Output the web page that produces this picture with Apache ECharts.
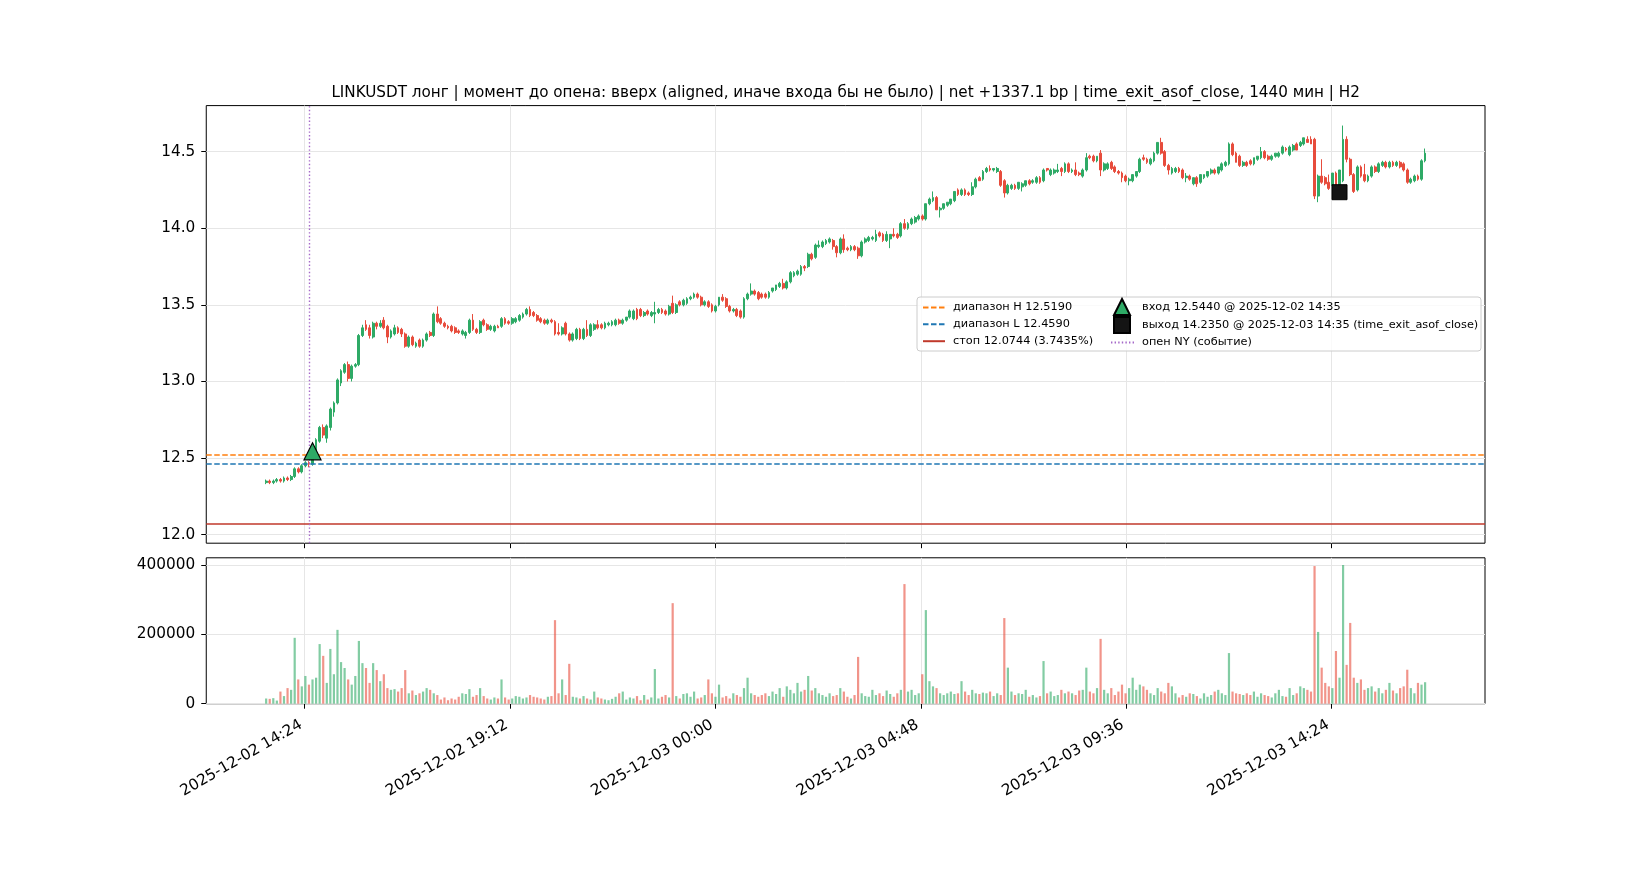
<!DOCTYPE html>
<html>
<head>
<meta charset="utf-8">
<script src="https://cdn.jsdelivr.net/npm/echarts@6/dist/echarts.min.js"></script>
<style>
html, body { margin: 0; padding: 0; background: #fff; }
#chart { width: 1650px; height: 880px; }
</style>
</head>
<body>
<div id="chart"></div>
<script>
// 5-minute candles, first one opens at 2025-12-02 13:30 (UTC)
var startTime = '2025-12-02 13:30';
var barMinutes = 5;

var opens = [
  12.34,12.35,12.34,12.35,12.36,12.35,12.37,12.36,12.38,12.43,
  12.41,12.45,12.47,12.46,12.54,12.61,12.70,12.63,12.70,12.80,
  12.86,12.99,13.06,13.11,13.02,13.10,13.11,13.30,13.37,13.35,
  13.29,13.38,13.36,13.40,13.36,13.29,13.31,13.35,13.34,13.31,
  13.23,13.29,13.23,13.27,13.23,13.27,13.32,13.30,13.44,13.41,
  13.38,13.36,13.36,13.35,13.33,13.31,13.30,13.32,13.40,13.34,
  13.32,13.40,13.37,13.34,13.33,13.36,13.36,13.41,13.39,13.38,
  13.39,13.40,13.42,13.44,13.47,13.45,13.43,13.41,13.40,13.38,
  13.40,13.39,13.32,13.31,13.38,13.31,13.27,13.28,13.34,13.28,
  13.34,13.30,13.34,13.37,13.37,13.35,13.37,13.37,13.37,13.40,
  13.38,13.40,13.42,13.41,13.47,13.47,13.43,13.46,13.43,13.44,
  13.45,13.47,13.46,13.44,13.51,13.45,13.52,13.50,13.51,13.54,
  13.55,13.57,13.55,13.50,13.52,13.50,13.46,13.50,13.55,13.54,
  13.49,13.46,13.47,13.46,13.42,13.54,13.57,13.59,13.58,13.57,
  13.57,13.55,13.59,13.60,13.62,13.64,13.61,13.65,13.69,13.70,
  13.70,13.75,13.75,13.83,13.81,13.88,13.88,13.90,13.91,13.92,
  13.88,13.84,13.93,13.87,13.86,13.88,13.87,13.82,13.91,13.92,
  13.93,13.92,13.97,13.96,13.92,13.93,13.96,13.96,13.95,14.03,
  14.00,14.03,14.04,14.06,14.08,14.06,14.16,14.18,14.20,14.12,
  14.13,14.15,14.16,14.18,14.25,14.22,14.25,14.23,14.22,14.27,
  14.33,14.32,14.37,14.39,14.38,14.37,14.37,14.31,14.23,14.26,
  14.28,14.26,14.27,14.28,14.31,14.30,14.30,14.33,14.31,14.39,
  14.35,14.36,14.37,14.39,14.37,14.42,14.37,14.38,14.36,14.34,
  14.38,14.47,14.47,14.44,14.49,14.38,14.39,14.43,14.40,14.37,
  14.36,14.34,14.31,14.31,14.34,14.37,14.46,14.45,14.42,14.44,
  14.49,14.56,14.50,14.41,14.36,14.37,14.39,14.38,14.33,14.34,
  14.29,14.33,14.30,14.33,14.34,14.36,14.38,14.36,14.38,14.41,
  14.42,14.55,14.49,14.47,14.41,14.43,14.44,14.42,14.45,14.46,
  14.50,14.47,14.45,14.47,14.47,14.49,14.52,14.48,14.51,14.55,
  14.54,14.55,14.58,14.58,14.58,14.21,14.34,14.33,14.30,14.28,
  14.36,14.28,14.31,14.58,14.45,14.35,14.25,14.40,14.35,14.31,
  14.34,14.40,14.37,14.41,14.43,14.40,14.43,14.41,14.43,14.42,
  14.38,14.30,14.31,14.34,14.32,14.44
];
var highs = [
  12.36,12.36,12.36,12.37,12.37,12.38,12.38,12.39,12.44,12.44,
  12.46,12.48,12.48,12.56,12.63,12.71,12.72,12.72,12.83,12.87,
  13.02,13.08,13.12,13.13,13.11,13.12,13.31,13.37,13.40,13.37,
  13.39,13.39,13.40,13.42,13.37,13.34,13.37,13.36,13.35,13.32,
  13.30,13.30,13.26,13.28,13.28,13.32,13.33,13.45,13.49,13.42,
  13.39,13.37,13.37,13.36,13.34,13.34,13.33,13.41,13.44,13.35,
  13.40,13.41,13.38,13.37,13.37,13.37,13.42,13.42,13.40,13.42,
  13.42,13.44,13.45,13.48,13.49,13.46,13.44,13.42,13.41,13.41,
  13.41,13.40,13.38,13.36,13.39,13.32,13.32,13.35,13.35,13.35,
  13.40,13.38,13.38,13.40,13.38,13.39,13.39,13.40,13.41,13.41,
  13.41,13.42,13.47,13.47,13.48,13.48,13.46,13.47,13.46,13.52,
  13.48,13.48,13.47,13.50,13.56,13.51,13.53,13.54,13.55,13.56,
  13.58,13.58,13.56,13.53,13.53,13.51,13.50,13.55,13.57,13.55,
  13.50,13.48,13.48,13.47,13.55,13.58,13.64,13.60,13.59,13.58,
  13.58,13.59,13.61,13.63,13.65,13.67,13.66,13.72,13.72,13.73,
  13.76,13.76,13.84,13.84,13.90,13.92,13.92,13.93,13.94,13.93,
  13.89,13.94,13.96,13.88,13.89,13.89,13.88,13.92,13.94,13.95,
  13.95,13.99,13.98,13.97,13.98,13.96,14.00,13.97,14.04,14.06,
  14.04,14.07,14.08,14.09,14.09,14.16,14.20,14.24,14.21,14.14,
  14.16,14.17,14.19,14.24,14.26,14.26,14.26,14.24,14.30,14.33,
  14.34,14.38,14.40,14.41,14.39,14.40,14.38,14.32,14.29,14.29,
  14.29,14.30,14.30,14.31,14.32,14.32,14.34,14.34,14.39,14.39,
  14.39,14.39,14.42,14.40,14.43,14.43,14.39,14.43,14.37,14.39,
  14.49,14.48,14.48,14.47,14.51,14.43,14.43,14.44,14.41,14.38,
  14.37,14.35,14.33,14.35,14.37,14.46,14.48,14.46,14.46,14.50,
  14.56,14.59,14.51,14.42,14.40,14.40,14.40,14.39,14.36,14.35,
  14.33,14.34,14.35,14.35,14.37,14.39,14.39,14.40,14.43,14.44,
  14.56,14.56,14.50,14.48,14.44,14.44,14.45,14.46,14.47,14.53,
  14.51,14.48,14.48,14.49,14.50,14.54,14.53,14.54,14.55,14.56,
  14.57,14.59,14.60,14.60,14.59,14.35,14.45,14.34,14.35,14.36,
  14.37,14.38,14.67,14.60,14.46,14.36,14.41,14.41,14.42,14.35,
  14.41,14.41,14.43,14.44,14.44,14.44,14.44,14.44,14.44,14.43,
  14.39,14.33,14.35,14.35,14.45,14.52
];
var lows = [
  12.33,12.33,12.33,12.34,12.34,12.34,12.35,12.35,12.37,12.40,
  12.40,12.44,12.44,12.45,12.53,12.60,12.63,12.60,12.68,12.77,
  12.85,12.97,13.05,13.00,13.00,13.09,13.10,13.29,13.33,13.28,
  13.28,13.34,13.35,13.34,13.25,13.28,13.30,13.31,13.29,13.22,
  13.22,13.23,13.22,13.22,13.22,13.26,13.29,13.29,13.38,13.37,
  13.35,13.34,13.32,13.31,13.31,13.30,13.28,13.31,13.33,13.31,
  13.31,13.36,13.33,13.33,13.32,13.35,13.35,13.37,13.37,13.37,
  13.38,13.39,13.41,13.43,13.42,13.42,13.39,13.38,13.37,13.37,
  13.38,13.30,13.30,13.30,13.30,13.26,13.26,13.27,13.27,13.27,
  13.29,13.29,13.33,13.34,13.34,13.34,13.36,13.36,13.36,13.37,
  13.37,13.39,13.41,13.40,13.40,13.42,13.42,13.43,13.42,13.38,
  13.44,13.44,13.43,13.43,13.44,13.44,13.49,13.49,13.50,13.53,
  13.54,13.54,13.49,13.49,13.48,13.45,13.45,13.49,13.52,13.48,
  13.45,13.45,13.42,13.41,13.41,13.53,13.56,13.56,13.53,13.54,
  13.54,13.54,13.58,13.59,13.61,13.60,13.60,13.64,13.68,13.69,
  13.69,13.72,13.74,13.79,13.80,13.87,13.87,13.89,13.90,13.86,
  13.81,13.83,13.84,13.85,13.85,13.85,13.80,13.81,13.90,13.91,
  13.92,13.91,13.94,13.91,13.91,13.87,13.94,13.93,13.94,13.99,
  13.99,14.02,14.03,14.05,14.05,14.05,14.15,14.17,14.12,14.07,
  14.12,14.14,14.15,14.17,14.21,14.21,14.21,14.21,14.21,14.26,
  14.31,14.31,14.36,14.37,14.37,14.36,14.27,14.20,14.22,14.25,
  14.25,14.25,14.24,14.27,14.28,14.29,14.29,14.29,14.30,14.37,
  14.34,14.35,14.36,14.34,14.36,14.36,14.36,14.34,14.34,14.33,
  14.37,14.45,14.43,14.43,14.34,14.37,14.38,14.38,14.36,14.35,
  14.30,14.30,14.28,14.30,14.33,14.36,14.44,14.42,14.41,14.43,
  14.48,14.48,14.40,14.35,14.35,14.36,14.36,14.32,14.30,14.31,
  14.28,14.27,14.29,14.32,14.33,14.35,14.35,14.35,14.37,14.40,
  14.41,14.47,14.43,14.40,14.40,14.40,14.41,14.41,14.44,14.45,
  14.45,14.44,14.44,14.46,14.46,14.48,14.50,14.47,14.50,14.51,
  14.53,14.54,14.56,14.55,14.19,14.17,14.29,14.28,14.25,14.27,
  14.27,14.27,14.30,14.43,14.34,14.23,14.24,14.33,14.30,14.30,
  14.33,14.36,14.36,14.40,14.39,14.39,14.40,14.40,14.39,14.37,
  14.29,14.29,14.30,14.31,14.31,14.43
];
var closes = [
  12.35,12.34,12.35,12.36,12.35,12.37,12.36,12.38,12.43,12.41,
  12.45,12.47,12.46,12.54,12.62,12.70,12.65,12.71,12.82,12.86,
  13.01,13.07,13.11,13.02,13.10,13.11,13.30,13.35,13.34,13.30,
  13.38,13.36,13.38,13.35,13.29,13.33,13.35,13.32,13.31,13.23,
  13.29,13.24,13.25,13.23,13.27,13.31,13.30,13.44,13.39,13.38,
  13.36,13.35,13.33,13.32,13.32,13.33,13.32,13.40,13.34,13.32,
  13.39,13.37,13.34,13.36,13.36,13.35,13.41,13.38,13.38,13.41,
  13.41,13.43,13.44,13.47,13.43,13.43,13.40,13.39,13.38,13.40,
  13.39,13.31,13.31,13.35,13.31,13.27,13.31,13.34,13.28,13.34,
  13.30,13.37,13.37,13.35,13.35,13.38,13.38,13.39,13.40,13.38,
  13.40,13.42,13.46,13.46,13.41,13.43,13.45,13.44,13.45,13.45,
  13.47,13.45,13.44,13.49,13.45,13.50,13.50,13.53,13.54,13.55,
  13.57,13.55,13.50,13.52,13.49,13.46,13.49,13.55,13.53,13.49,
  13.46,13.47,13.43,13.42,13.54,13.57,13.59,13.57,13.54,13.55,
  13.55,13.58,13.61,13.63,13.64,13.61,13.65,13.71,13.71,13.72,
  13.75,13.74,13.83,13.80,13.89,13.89,13.91,13.92,13.93,13.88,
  13.84,13.93,13.86,13.86,13.88,13.86,13.82,13.91,13.93,13.94,
  13.94,13.96,13.95,13.92,13.96,13.96,13.95,13.94,14.03,14.00,
  14.03,14.06,14.07,14.08,14.06,14.16,14.19,14.20,14.12,14.13,
  14.16,14.17,14.19,14.24,14.22,14.25,14.22,14.22,14.27,14.32,
  14.31,14.37,14.39,14.38,14.39,14.39,14.28,14.23,14.28,14.28,
  14.26,14.30,14.29,14.31,14.29,14.31,14.33,14.30,14.38,14.38,
  14.38,14.38,14.38,14.37,14.42,14.37,14.38,14.35,14.35,14.38,
  14.46,14.46,14.44,14.47,14.38,14.42,14.42,14.39,14.37,14.36,
  14.33,14.31,14.32,14.35,14.37,14.45,14.45,14.43,14.45,14.49,
  14.56,14.49,14.41,14.38,14.39,14.39,14.37,14.33,14.34,14.32,
  14.33,14.29,14.35,14.35,14.37,14.38,14.36,14.40,14.42,14.43,
  14.55,14.48,14.43,14.41,14.43,14.41,14.42,14.46,14.47,14.50,
  14.46,14.45,14.47,14.49,14.49,14.53,14.51,14.53,14.54,14.51,
  14.56,14.59,14.56,14.55,14.21,14.34,14.30,14.29,14.26,14.36,
  14.28,14.38,14.58,14.45,14.35,14.24,14.40,14.34,14.31,14.34,
  14.40,14.37,14.42,14.43,14.40,14.43,14.41,14.43,14.40,14.38,
  14.30,14.32,14.34,14.32,14.44,14.49
];
var volumes = [
  15000,14000,16000,9000,35000,22000,45000,40000,190000,70000,
  50000,80000,55000,70000,75000,172000,138000,60000,158000,85000,
  213000,120000,103000,70000,55000,80000,181000,117000,103000,60000,
  117000,97000,65000,85000,45000,40000,42000,35000,45000,97000,
  30000,38000,25000,30000,35000,45000,40000,30000,25000,12000,
  18000,10000,15000,12000,20000,30000,28000,42000,20000,25000,
  45000,22000,15000,12000,18000,15000,70000,18000,12000,15000,
  22000,20000,15000,18000,25000,20000,18000,15000,12000,20000,
  22000,241000,30000,70000,25000,115000,20000,18000,15000,22000,
  15000,12000,35000,18000,15000,12000,10000,14000,20000,30000,
  35000,12000,18000,15000,22000,10000,25000,12000,18000,100000,
  15000,20000,25000,18000,290000,22000,15000,28000,30000,20000,
  35000,15000,18000,25000,70000,30000,20000,55000,18000,22000,
  15000,30000,25000,20000,45000,75000,30000,25000,20000,25000,
  30000,22000,35000,28000,45000,20000,50000,40000,30000,60000,
  35000,40000,80000,38000,45000,30000,25000,20000,30000,22000,
  25000,45000,35000,20000,15000,25000,135000,30000,22000,20000,
  40000,25000,30000,22000,38000,28000,20000,30000,40000,345000,
  35000,40000,25000,30000,85000,270000,65000,50000,45000,30000,
  25000,30000,35000,28000,30000,65000,35000,25000,40000,30000,
  28000,32000,30000,35000,22000,30000,25000,247000,104000,35000,
  25000,30000,28000,40000,20000,25000,18000,22000,123000,30000,
  35000,22000,25000,40000,30000,35000,30000,25000,38000,40000,
  104000,35000,30000,45000,187000,40000,30000,45000,25000,35000,
  55000,30000,45000,75000,40000,55000,50000,40000,30000,25000,
  45000,35000,30000,60000,50000,30000,18000,25000,20000,30000,
  28000,22000,15000,30000,20000,25000,35000,40000,30000,25000,
  146000,35000,30000,28000,25000,30000,25000,35000,20000,30000,
  25000,22000,18000,30000,40000,22000,20000,45000,25000,30000,
  50000,45000,40000,35000,397000,207000,104000,60000,50000,45000,
  152000,75000,400000,112000,233000,75000,60000,70000,40000,45000,
  50000,35000,45000,30000,40000,60000,38000,30000,45000,50000,
  98000,45000,30000,60000,55000,62000
];

var tickLabels = ['2025-12-02 14:24', '2025-12-02 19:12', '2025-12-03 00:00',
                  '2025-12-03 04:48', '2025-12-03 09:36', '2025-12-03 14:24'];
var priceTicks = [12.0, 12.5, 13.0, 13.5, 14.0, 14.5];
var volumeTicks = [0, 200000, 400000];

var rangeHigh = 12.5190, rangeLow = 12.4590, stopPrice = 12.0744;
var entryTime = '2025-12-02 14:35', entryPrice = 12.5440;
var exitTime = '2025-12-03 14:35', exitPrice = 14.2350;
var nyOpenTime = '2025-12-02 14:30';

var nameH = 'диапазон H 12.5190';
var nameL = 'диапазон L 12.4590';
var nameStop = 'стоп 12.0744 (3.7435%)';
var nameEntry = 'вход 12.5440 @ 2025-12-02 14:35';
var nameExit = 'выход 14.2350 @ 2025-12-03 14:35 (time_exit_asof_close)';
var nameOpen = 'опен NY (событие)';

function toMs(s) {
    var p = s.split(/[- :]/);
    return Date.UTC(+p[0], +p[1] - 1, +p[2], +p[3], +p[4]);
}

var t0 = toMs(startTime);
var tickMs = tickLabels.map(toMs);
var xMin = toMs('2025-12-02 12:06');
var xMax = toMs('2025-12-03 17:59');

var GREEN = '#2eaa66', RED = '#e74c3c';
var FONT = 'DejaVu Sans';
var TICK_FS = 15.3, TITLE_FS = 15.2, LEG_FS = 11.3;

var candleData = [], volData = [];
for (var i = 0; i < closes.length; i++) {
    var t = t0 + i * barMinutes * 60000;
    candleData.push([t, opens[i], closes[i], lows[i], highs[i]]);
    volData.push({
        value: [t, volumes[i]],
        itemStyle: { color: closes[i] >= opens[i] ? 'rgba(46,170,102,0.6)' : 'rgba(231,76,60,0.6)' }
    });
}

var gridLine = { color: '#e6e6e6', width: 1, type: 'solid' };
function gridMarks(yTicks) {
    return yTicks.map(function (v) { return { yAxis: v }; })
        .concat(tickMs.map(function (t) { return { xAxis: t }; }));
}
function hLine(v) { return { yAxis: v }; }
// line entries: hide the dot ECharts puts on line legend icons
function lineItem(name) { return { name: name, itemStyle: { opacity: 0 } }; }

var dom = document.getElementById('chart');
var myChart = echarts.init(dom, null, { renderer: 'canvas' });

var xLabelFmt = function (v) {
    var k = tickMs.indexOf(v);
    return k >= 0 ? tickLabels[k] : '';
};
var legText = { fontFamily: FONT, fontSize: LEG_FS, color: '#000' };

var option = {
    animation: false,
    backgroundColor: '#fff',
    title: {
        text: 'LINKUSDT лонг | момент до опена: вверх (aligned, иначе входа бы не было) | net +1337.1 bp | time_exit_asof_close, 1440 мин | H2',
        left: 845.6,
        textAlign: 'center',
        top: 85,
        padding: 0,
        textStyle: { fontFamily: FONT, fontSize: TITLE_FS, fontWeight: 'normal', color: '#000', lineHeight: 17 }
    },
    legend: [
        {
            data: [lineItem(nameH), lineItem(nameL), lineItem(nameStop)],
            orient: 'vertical', left: 922, top: 301, padding: 0,
            itemWidth: 22, itemHeight: 16, itemGap: 4.1,
            selectedMode: false,
            textStyle: Object.assign({ padding: [0, 0, 0, 3] }, legText)
        },
        {
            data: [nameEntry, nameExit],
            orient: 'vertical', left: 1113, top: 298, padding: 0,
            itemWidth: 16, itemHeight: 16, itemGap: 0,
            selectedMode: false,
            textStyle: Object.assign({ padding: [0, 0, 0, 7] }, legText)
        },
        {
            data: [lineItem(nameOpen)],
            orient: 'vertical', left: 1110, top: 336, padding: 0,
            itemWidth: 23, itemHeight: 16, itemGap: 1.4,
            selectedMode: false,
            textStyle: Object.assign({ padding: [0, 0, 0, 3] }, legText)
        }
    ],
    graphic: [{
        type: 'rect', z: 3, silent: true,
        shape: { x: 917, y: 297, width: 564, height: 54, r: 3 },
        style: { fill: 'rgba(255,255,255,0.8)', stroke: '#cccccc', lineWidth: 1 }
    }],
    grid: [
        { left: 206.25, right: 165, top: 105.6, height: 437.6, show: true, borderColor: '#000', borderWidth: 1, backgroundColor: 'transparent' },
        { left: 206.25, right: 165, top: 557.8, height: 145.9, show: true, borderColor: '#000', borderWidth: 1, backgroundColor: 'transparent' }
    ],
    xAxis: [
        {
            type: 'value', gridIndex: 0, min: xMin, max: xMax,
            axisLine: { show: false }, splitLine: { show: false },
            axisTick: { show: true, customValues: tickMs, length: 5, lineStyle: { color: '#000', width: 1 } },
            axisLabel: { show: false }
        },
        {
            type: 'value', gridIndex: 1, min: xMin, max: xMax,
            axisLine: { show: false }, splitLine: { show: false },
            axisTick: { show: true, customValues: tickMs, length: 5, lineStyle: { color: '#000', width: 1 } },
            axisLabel: {
                show: true, customValues: tickMs, rotate: 30, margin: 18,
                padding: [0, 4, 0, 0],
                formatter: xLabelFmt,
                fontFamily: FONT, fontSize: TICK_FS, color: '#000'
            }
        }
    ],
    yAxis: [
        {
            type: 'value', gridIndex: 0, min: 11.9446, max: 14.8002,
            axisLine: { show: false }, splitLine: { show: false },
            axisTick: { show: true, customValues: priceTicks, length: 5, lineStyle: { color: '#000', width: 1 } },
            axisLabel: {
                customValues: priceTicks, margin: 11,
                formatter: function (v) { return v.toFixed(1); },
                fontFamily: FONT, fontSize: TICK_FS, color: '#000'
            }
        },
        {
            type: 'value', gridIndex: 1, min: 0, max: 420800,
            axisLine: { show: false }, splitLine: { show: false },
            axisTick: { show: true, customValues: volumeTicks, length: 5, lineStyle: { color: '#000', width: 1 } },
            axisLabel: {
                customValues: volumeTicks, margin: 11,
                formatter: function (v) { return String(v); },
                fontFamily: FONT, fontSize: TICK_FS, color: '#000'
            }
        }
    ],
    series: [
        {
            name: 'gridPrice', type: 'line', xAxisIndex: 0, yAxisIndex: 0, data: [], z: 0,
            markLine: { silent: true, z: 1, symbol: ['none', 'none'], label: { show: false },
                lineStyle: gridLine, data: gridMarks(priceTicks) }
        },
        {
            name: 'gridVolume', type: 'line', xAxisIndex: 1, yAxisIndex: 1, data: [], z: 0,
            markLine: { silent: true, z: 1, symbol: ['none', 'none'], label: { show: false },
                lineStyle: gridLine, data: gridMarks(volumeTicks) }
        },
        {
            name: 'LINKUSDT', type: 'candlestick', xAxisIndex: 0, yAxisIndex: 0,
            data: candleData, encode: { x: 0, y: [1, 2, 3, 4] },
            barWidth: 2.3, z: 2,
            itemStyle: { color: GREEN, color0: RED, borderColor: GREEN, borderColor0: RED, borderWidth: 1 }
        },
        {
            name: 'volume', type: 'bar', xAxisIndex: 1, yAxisIndex: 1,
            data: volData, barWidth: 2.2, z: 2
        },
        {
            name: nameH, type: 'line', xAxisIndex: 0, yAxisIndex: 0, data: [], symbol: 'none',
            lineStyle: { color: '#ff7f0e', width: 1.5, type: [5.5, 2.5] }, itemStyle: { color: '#ff7f0e' },
            markLine: { silent: true, symbol: ['none', 'none'], label: { show: false },
                lineStyle: { color: '#ff7f0e', width: 1.5, type: [5.5, 2.5] }, data: [hLine(rangeHigh)] }
        },
        {
            name: nameL, type: 'line', xAxisIndex: 0, yAxisIndex: 0, data: [], symbol: 'none',
            lineStyle: { color: '#1f77b4', width: 1.5, type: [5.5, 2.5] }, itemStyle: { color: '#1f77b4' },
            markLine: { silent: true, symbol: ['none', 'none'], label: { show: false },
                lineStyle: { color: '#1f77b4', width: 1.5, type: [5.5, 2.5] }, data: [hLine(rangeLow)] }
        },
        {
            name: nameStop, type: 'line', xAxisIndex: 0, yAxisIndex: 0, data: [], symbol: 'none',
            lineStyle: { color: '#c0392b', width: 1.5 }, itemStyle: { color: '#c0392b' },
            markLine: { silent: true, symbol: ['none', 'none'], label: { show: false },
                lineStyle: { color: '#c0392b', width: 1.5, type: 'solid' }, data: [hLine(stopPrice)] }
        },
        {
            name: nameOpen, type: 'line', xAxisIndex: 0, yAxisIndex: 0, data: [], symbol: 'none',
            lineStyle: { color: '#a569c9', width: 1.4, type: [1.4, 2.2] }, itemStyle: { color: '#a569c9' },
            markLine: { silent: true, symbol: ['none', 'none'], label: { show: false },
                lineStyle: { color: '#a569c9', width: 1.4, type: [1.4, 2.2] }, data: [{ xAxis: toMs(nyOpenTime) }] }
        },
        {
            name: nameEntry, type: 'scatter', xAxisIndex: 0, yAxisIndex: 0, z: 10,
            symbol: 'triangle', symbolSize: 17,
            itemStyle: { color: GREEN, borderColor: '#000', borderWidth: 1.2, opacity: 1 },
            data: [[toMs(entryTime), entryPrice]]
        },
        {
            name: nameExit, type: 'scatter', xAxisIndex: 0, yAxisIndex: 0, z: 10,
            symbol: 'rect', symbolSize: 15,
            itemStyle: { color: '#141414', borderColor: '#000', borderWidth: 1, opacity: 1 },
            data: [[toMs(exitTime), exitPrice]]
        }
    ]
};

if (option && typeof option === 'object') {
    myChart.setOption(option, true);
}
</script>
</body>
</html>
